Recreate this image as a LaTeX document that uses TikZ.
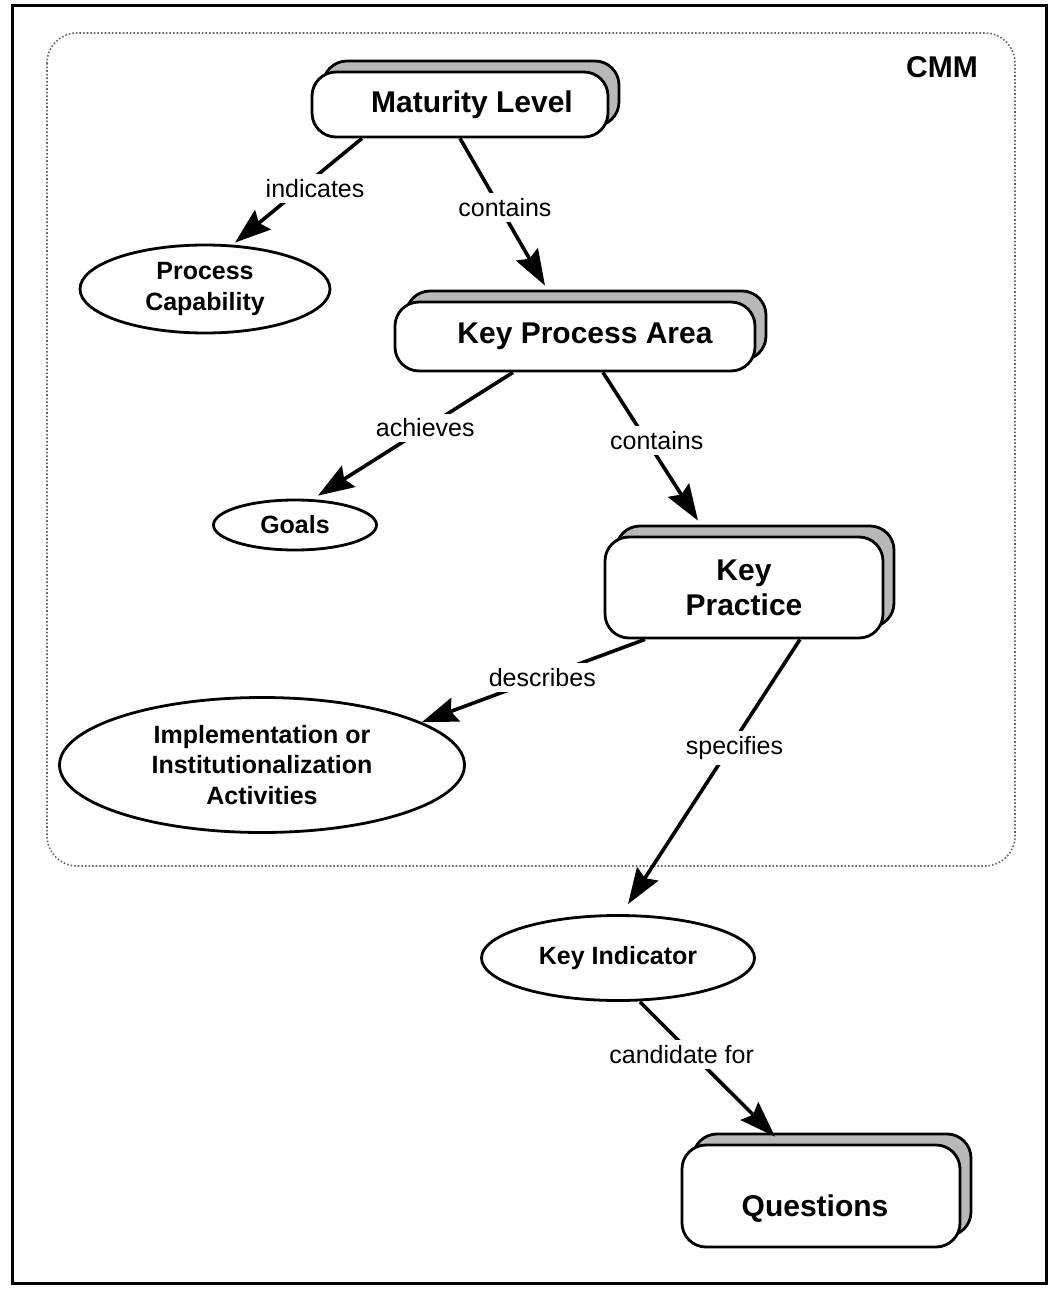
\documentclass[tikz,border=0pt]{standalone}
\usepackage{fontspec}
\setmainfont{Liberation Sans}
\usetikzlibrary{shapes.geometric,shadows,arrows.meta}

\begin{document}
\begin{tikzpicture}[x=1pt,y=-1pt,
    card/.style={draw,line width=2.8pt,rounded corners=24pt,fill=white,
      font=\fontsize{30}{35}\selectfont\bfseries,align=center,inner sep=0pt,
      copy shadow={shadow xshift=11pt,shadow yshift=11pt,fill=black!28,draw=black,line width=2.8pt}},
    blob/.style={draw,ellipse,line width=2.8pt,inner sep=0pt,align=center,
      font=\fontsize{25}{30.5}\selectfont\bfseries},
    link/.style={line width=3.6pt,-{Stealth[length=36pt,width=25pt,inset=5pt]}},
    verb/.style={fill=white,inner sep=5pt,font=\fontsize{25}{30}\selectfont}]
    \useasboundingbox (0,0) rectangle (1049,1290);

    % frame and CMM area
    \draw[line width=3pt] (12,6) rectangle (1046,1283);
    \draw[black!60,dotted,line width=1.6pt,rounded corners=30pt] (47,33) rectangle (1015,866);
    \node[font=\fontsize{30}{35}\selectfont\bfseries] (cmm) at (942,67) {CMM};

    % concepts
    \node[card,minimum width=296pt,minimum height=65pt] (ml) at (460,104.5) {\hspace*{24pt}Maturity Level};
    \node[card,minimum width=360pt,minimum height=69pt] (kpa) at (575,336.5) {\hspace*{20pt}Key Process Area};
    \node[card,minimum width=278pt,minimum height=101pt] (kp) at (744,587.5) {Key\\Practice};
    \node[card,minimum width=278pt,minimum height=102pt,text height=40pt,text depth=0pt] (q) at (821,1196)
        {Questions\hspace*{12pt}};

    \node[blob,minimum width=250pt,minimum height=88pt] (pc) at (205,289) {Process\\Capability};
    \node[blob,minimum width=163pt,minimum height=50pt] (goals) at (295,525) {Goals};
    \node[blob,minimum width=405pt,minimum height=135pt] (impl) at (262,765)
        {Implementation or\\Institutionalization\\Activities};
    \node[blob,minimum width=273pt,minimum height=85pt] (ki) at (618,958) {Key Indicator};

    % relations
    \draw[link] ([xshift=-98pt]ml.south) -- ([xshift=30pt,yshift=1pt]pc.north)
        node[verb,pos=0.48,xshift=14pt] {indicates};
    \draw[link] (ml.south) -- ([xshift=-30pt,yshift=15pt]kpa.north)
        node[verb,pos=0.47,xshift=5pt] {contains};
    \draw[link] ([xshift=-62pt]kpa.south) -- ([xshift=23pt,yshift=3pt]goals.north)
        node[verb,pos=0.45] {achieves};
    \draw[link] ([xshift=28pt]kpa.south) -- ([xshift=-46pt,yshift=15pt]kp.north)
        node[verb,pos=0.46,xshift=10pt] {contains};
    \draw[link] ([xshift=-99pt]kp.south) -- (impl.15)
        node[verb,pos=0.46] {describes};
    \draw[link] ([xshift=56pt]kp.south) -- ([xshift=10pt,yshift=10pt]ki.north)
        node[verb,pos=0.41,xshift=5pt] {specifies};
    \draw[link] ([xshift=22pt]ki.south) -- ([xshift=-46pt,yshift=7pt]q.north)
        node[verb,pos=0.39,xshift=-11pt] {candidate for};
\end{tikzpicture}
\end{document}
